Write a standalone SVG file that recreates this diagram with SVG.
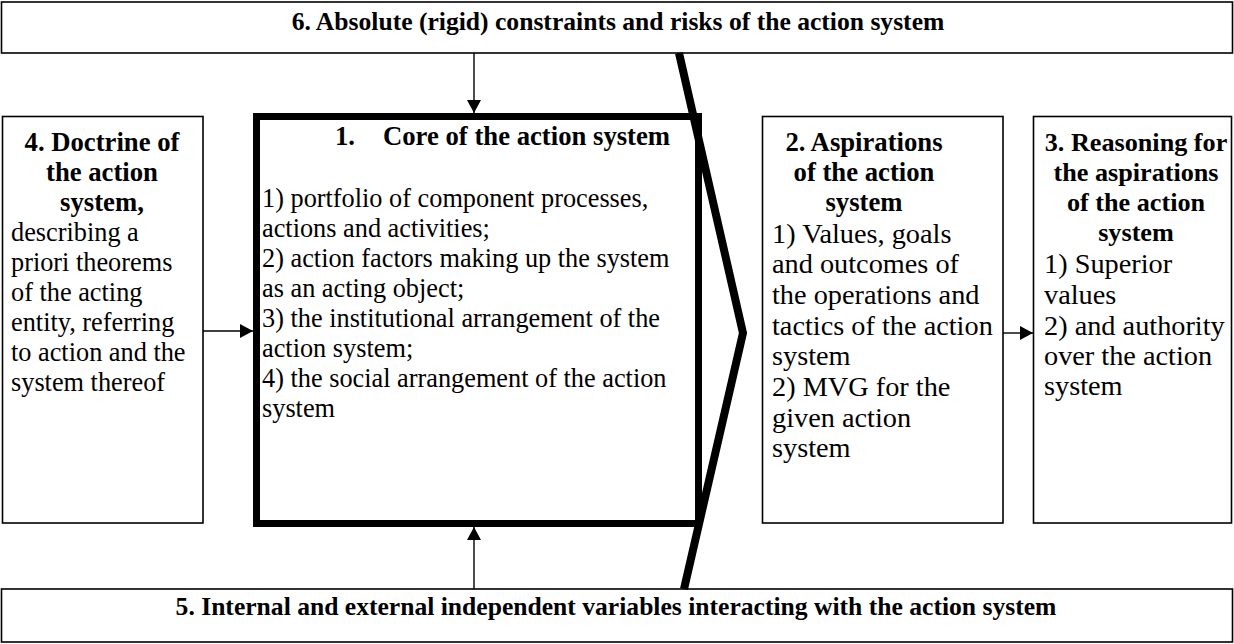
<svg xmlns="http://www.w3.org/2000/svg" width="1234" height="644" viewBox="0 0 1234 644">
  <style>
    .box { fill: #fff; stroke: #000; stroke-width: 1.6; }
    .core { fill: #fff; stroke: #000; stroke-width: 7; }
    .link { stroke: #000; stroke-width: 1.4; fill: none; }
    .hd { font-family: "Liberation Serif", "Times New Roman", serif; font-weight: bold; font-size: 25.6px; fill: #000; }
    .ht { font-family: "Liberation Serif", "Times New Roman", serif; font-weight: bold; font-size: 26.7px; fill: #000; }
    .tx { font-family: "Liberation Serif", "Times New Roman", serif; font-size: 26.3px; fill: #000; }
    .tc { font-family: "Liberation Serif", "Times New Roman", serif; font-size: 28.3px; fill: #000; }
    .mid { text-anchor: middle; }
    .narrow { font-size: 26.2px; }
  </style>
  <defs>
    <marker id="arrow" markerUnits="userSpaceOnUse" markerWidth="14" markerHeight="16" refX="13" refY="7" orient="auto">
      <path d="M0,0 L13,7 L0,14 Z" fill="#000"/>
    </marker>
  </defs>
  <rect width="1234" height="644" fill="#fff"/>

  <!-- 6: top band -->
  <g id="node6">
    <rect class="box" x="1.5" y="2" width="1231" height="51"/>
    <text class="hd mid" x="618" y="30">6. Absolute (rigid) constraints and risks of the action system</text>
  </g>

  <!-- 5: bottom band -->
  <g id="node5">
    <rect class="box" x="1.5" y="589" width="1231" height="53"/>
    <text class="hd mid" x="616" y="615">5. Internal and external independent variables interacting with the action system</text>
  </g>

  <!-- 4: doctrine -->
  <g id="node4">
    <rect class="box" x="2.5" y="116.5" width="200.5" height="406.5"/>
    <text class="ht mid" x="102" y="151">4. Doctrine of</text>
    <text class="ht mid" x="102" y="181">the action</text>
    <text class="ht mid" x="102" y="211">system,</text>
    <text class="tx" x="11" y="241">describing a</text>
    <text class="tx" x="11" y="271">priori theorems</text>
    <text class="tx" x="11" y="301">of the acting</text>
    <text class="tx" x="11" y="331">entity, referring</text>
    <text class="tx" x="11" y="361">to action and the</text>
    <text class="tx" x="11" y="391">system thereof</text>
  </g>

  <!-- 1: core -->
  <g id="node1">
    <rect class="core" x="256.5" y="116.5" width="442" height="407"/>
    <text class="ht" x="335" y="145">1.</text>
    <text class="ht" x="383" y="145">Core of the action system</text>
    <text class="tx" x="262" y="207">1) portfolio of component processes,</text>
    <text class="tx" x="262" y="237">actions and activities;</text>
    <text class="tx" x="262" y="267">2) action factors making up the system</text>
    <text class="tx" x="262" y="297">as an acting object;</text>
    <text class="tx" x="262" y="327">3) the institutional arrangement of the</text>
    <text class="tx" x="262" y="357">action system;</text>
    <text class="tx" x="262" y="387">4) the social arrangement of the action</text>
    <text class="tx" x="262" y="417">system</text>
  </g>

  <!-- 2: aspirations -->
  <g id="node2">
    <rect class="box" x="762.5" y="116.5" width="240.5" height="406.5"/>
    <text class="ht mid" x="864" y="151">2. Aspirations</text>
    <text class="ht mid" x="864" y="181">of the action</text>
    <text class="ht mid" x="864" y="211">system</text>
    <text class="tc" x="772" y="243">1) Values, goals</text>
    <text class="tc" x="772" y="273">and outcomes of</text>
    <text class="tc" x="772" y="304">the operations and</text>
    <text class="tc" x="772" y="335">tactics of the action</text>
    <text class="tc" x="772" y="365">system</text>
    <text class="tc" x="772" y="396">2) MVG for the</text>
    <text class="tc" x="772" y="427">given action</text>
    <text class="tc" x="772" y="457">system</text>
  </g>

  <!-- 3: reasoning -->
  <g id="node3">
    <rect class="box" x="1033.5" y="116.5" width="198" height="406.5"/>
    <text class="ht narrow mid" x="1136" y="151">3. Reasoning for</text>
    <text class="ht narrow mid" x="1136" y="181">the aspirations</text>
    <text class="ht narrow mid" x="1136" y="211">of the action</text>
    <text class="ht narrow mid" x="1136" y="241">system</text>
    <text class="tc" x="1044" y="273">1) Superior</text>
    <text class="tc" x="1044" y="304">values</text>
    <text class="tc" x="1044" y="335">2) and authority</text>
    <text class="tc" x="1044" y="365">over the action</text>
    <text class="tc" x="1044" y="395">system</text>
  </g>

  <!-- connectors -->
  <g id="connectors">
    <polyline points="679,53 743,333 684,589" fill="none" stroke="#000" stroke-width="8" stroke-linejoin="miter" stroke-miterlimit="10"/>
    <line class="link" x1="474" y1="53" x2="474" y2="113" marker-end="url(#arrow)"/>
    <line class="link" x1="474" y1="589" x2="474" y2="527" marker-end="url(#arrow)"/>
    <line class="link" x1="203" y1="331" x2="253" y2="331" marker-end="url(#arrow)"/>
    <line class="link" x1="1003" y1="333" x2="1033" y2="333" marker-end="url(#arrow)"/>
  </g>
</svg>
